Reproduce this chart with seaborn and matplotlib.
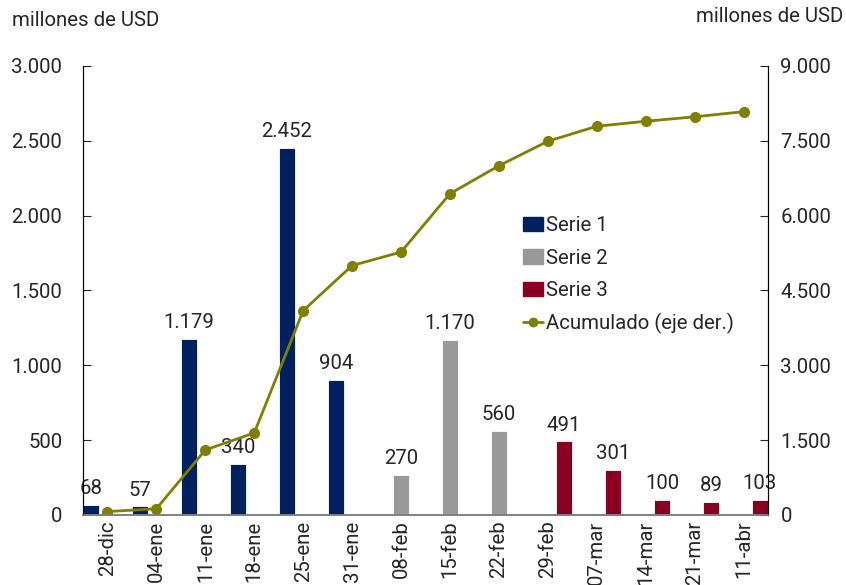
import numpy as np
import pandas as pd
import matplotlib
matplotlib.use("Agg")
import matplotlib.pyplot as plt
import seaborn as sns
from matplotlib.lines import Line2D

# Data
fechas = ["28-dic", "04-ene", "11-ene", "18-ene", "25-ene", "31-ene", "08-feb",
          "15-feb", "22-feb", "29-feb", "07-mar", "14-mar", "21-mar", "11-abr"]
serie1 = [68, 57, 1179, 340, 2452, 904]
serie2 = [270, 1170, 560]
serie3 = [491, 301, 100, 89, 103]
acumulado = [68, 125, 1304, 1644, 4096, 5000, 5270, 6440, 7000, 7491, 7792, 7892, 7981, 8084]

series = ["Serie 1", "Serie 2", "Serie 3"]
colores = ["#002060", "#999999", "#8B0021"]
color_linea = "#808000"

df = pd.DataFrame({
    "fecha": fechas,
    "serie": ["Serie 1"] * len(serie1) + ["Serie 2"] * len(serie2) + ["Serie 3"] * len(serie3),
    "valor": serie1 + serie2 + serie3,
})

sns.set_style("white")
plt.rcParams["font.family"] = ["Roboto", "DejaVu Sans"]
fs = 14.7


def miles(v):
    return f"{v:,.0f}".replace(",", ".")


fig = plt.figure(figsize=(8.46, 5.85), dpi=100)
ax = fig.add_axes([0.0981, 0.1197, 0.8097, 0.7675])

# barras agrupadas por serie
sns.barplot(data=df, x="fecha", y="valor", hue="serie", order=fechas,
            hue_order=series, palette=colores, width=1.0, dodge=True,
            saturation=1, errorbar=None, ax=ax, legend=False,
            edgecolor="white", linewidth=0.6)

for cont in ax.containers:
    vals = [b.get_height() for b in cont]
    ax.bar_label(cont, labels=[miles(v) for v in vals], fontsize=fs, padding=5)

ax.set_xlim(-0.5, len(fechas) - 0.5)
ax.set_ylim(0, 3000)
ax.set_yticks(np.arange(0, 3001, 500))
ax.set_yticklabels([miles(v) for v in np.arange(0, 3001, 500)])
ax.set_xlabel("")
ax.set_ylabel("")
ax.tick_params(axis="y", direction="in", length=6, pad=15, labelsize=fs)
ax.tick_params(axis="x", length=0, pad=4, labelsize=fs, rotation=90)
ax.set_xticks([2.5, 5.5, 8.5, 11.5], minor=True)
ax.tick_params(axis="x", which="minor", direction="in", length=8, color="black")

# acumulado en eje derecho
ax2 = ax.twinx()
ax2.plot(np.arange(len(fechas)), acumulado, color=color_linea, lw=2,
         marker="o", markersize=7)
ax2.set_ylim(0, 9000)
ax2.set_yticks(np.arange(0, 9001, 1500))
ax2.set_yticklabels([miles(v) for v in np.arange(0, 9001, 1500)])
ax2.tick_params(axis="y", direction="in", length=6, pad=9, labelsize=fs)

for a in (ax, ax2):
    a.spines["top"].set_visible(False)
    a.spines["left"].set_color("black")
    a.spines["right"].set_color("black")
    a.spines["bottom"].set_color("#808080")
    a.spines["bottom"].set_linewidth(1.2)

handles = [plt.Rectangle((0, 0), 1, 1, color=c) for c in colores]
handles.append(Line2D([], [], color=color_linea, lw=2, marker="o", markersize=6))
ax2.legend(handles, series + ["Acumulado (eje der.)"], loc="upper left",
           bbox_to_anchor=(0.642, 0.665), frameon=False, fontsize=fs,
           handlelength=1.0, handletextpad=0.15, labelspacing=0.65,
           borderaxespad=0, borderpad=0)

fig.text(12 / 846, 1 - 20 / 585, "millones de USD", fontsize=fs, va="center", ha="left")
fig.text(843 / 846, 1 - 17 / 585, "millones de USD", fontsize=fs, va="center", ha="right")

fig.savefig("out.png", dpi=100)
